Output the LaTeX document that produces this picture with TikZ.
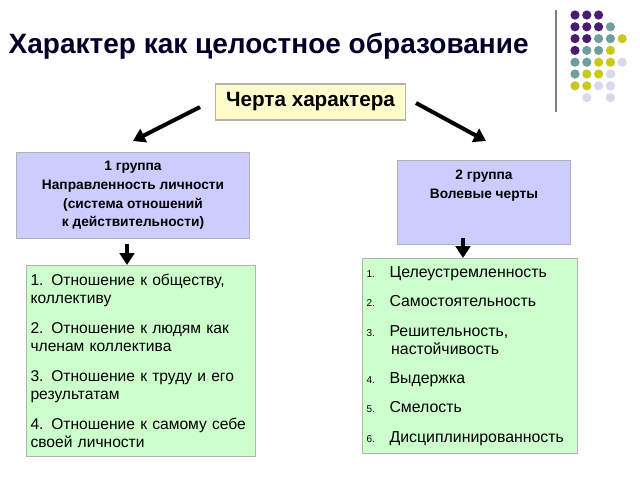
\documentclass[tikz,border=0pt]{standalone}
\usepackage{fontspec}
\setmainfont{Liberation Sans}
\usetikzlibrary{arrows.meta}
\definecolor{dotP}{HTML}{4A1C6E}
\definecolor{dotT}{HTML}{6E9E9E}
\definecolor{dotY}{HTML}{C8C81E}
\definecolor{dotL}{HTML}{D8D8EE}
\definecolor{dotN}{HTML}{FFFFFF}
\tikzset{
	box/.style={draw=gray!60, line width=0.8pt, inner sep=4pt},
	arr/.style={line width=3pt, -{Triangle[length=9pt, width=11pt]}},
}
\begin{document}
\begin{tikzpicture}[x=0.75pt, y=-0.75pt]
	%枠
	\useasboundingbox (0, 0) rectangle (640, 480);
	%表題
	\node[anchor=west, text=black!85!blue, font=\bfseries\fontsize{21}{24}\selectfont] (title) at (4, 46) {Характер как целостное образование};
	%飾り
	\draw[gray, line width=1.2pt] (556, 10)--(556, 112);
	\foreach \r/\row in {0/{P,P,P}, 1/{P,P,P,T}, 2/{P,P,T,T,Y}, 3/{P,T,T,Y}, 4/{T,T,Y,Y,L}, 5/{T,Y,Y,L}, 6/{Y,Y,L,L}, 7/{N,L,N,L}}{
		\foreach \c [count=\i from 0] in \row{
			\fill[dot\c] ({575+11.8*\i}, {15+11.8*\r}) circle (4.6);
		}
	}
	%箱
	\node[box, fill=yellow!20, minimum width=142pt, minimum height=27pt, font=\bfseries\fontsize{15.5}{17}\selectfont] (trait) at (310.5, 102) {Черта характера};
	\node[box, fill=blue!20, minimum width=175pt, minimum height=64pt, align=center, font=\bfseries\fontsize{10.3}{14}\selectfont] (g1) at (133, 195.5) {1 группа\\Направленность личности\\(система отношений\\к действительности)};
	\node[box, fill=blue!20, minimum width=130pt, minimum height=63pt, anchor=north, align=center, font=\bfseries\fontsize{10.3}{14}\selectfont] (g2) at (484, 160) {2 группа\\Волевые черты\\ \\ };
	\node[box, fill=green!20, minimum width=172pt, minimum height=143pt, anchor=north west, align=left, text width=166pt, inner sep=3pt, font=\fontsize{11.7}{13.5}\selectfont] (l1) at (26, 265) {1. Отношение к обществу,\\коллективу\\[9pt]2. Отношение к людям как\\членам коллектива\\[9pt]3. Отношение к труду и его\\результатам\\[9pt]4. Отношение к самому себе\\своей личности};
	\node[box, fill=green!20, minimum width=161pt, minimum height=146pt, anchor=north west, align=left, text width=155pt, inner sep=3pt, font=\fontsize{11.9}{13.5}\selectfont] (l2) at (362, 258) {%
		{\fontsize{7.5}{9}\selectfont 1.}\hspace{11pt}Целеустремленность\\[8.5pt]
		{\fontsize{7.5}{9}\selectfont 2.}\hspace{11pt}Самостоятельность\\[8.5pt]
		{\fontsize{7.5}{9}\selectfont 3.}\hspace{11pt}Решительность,\\\hspace{18.5pt}настойчивость\\[8.5pt]
		{\fontsize{7.5}{9}\selectfont 4.}\hspace{11pt}Выдержка\\[8.5pt]
		{\fontsize{7.5}{9}\selectfont 5.}\hspace{11pt}Смелость\\[8.5pt]
		{\fontsize{7.5}{9}\selectfont 6.}\hspace{11pt}Дисциплинированность};
	%矢印
	\coordinate (aL) at (200, 107);
	\coordinate (aR) at (416, 103);
	\coordinate (d1) at (127, 244);
	\coordinate (d2) at (463, 238);
	\draw[arr] (aL)--(133, 141);
	\draw[arr] (aR)--(486, 141);
	\draw[arr, line width=2.5pt] (d1)--(d1 |- l1.north);
	\draw[arr, line width=2.5pt] (d2)--(d2 |- l2.north);
\end{tikzpicture}
\end{document}
